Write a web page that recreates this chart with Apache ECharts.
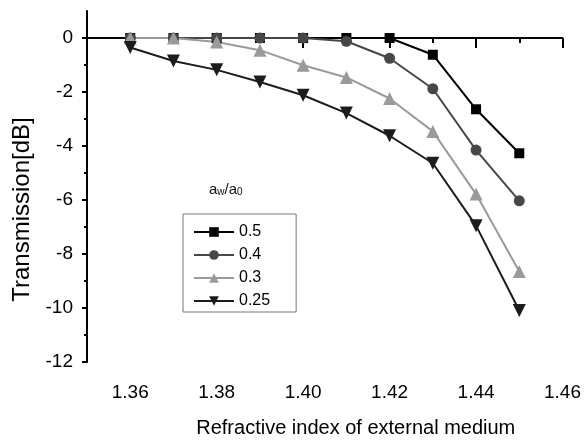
<!DOCTYPE html>
<html>
<head>
<meta charset="utf-8">
<script src="https://cdn.jsdelivr.net/npm/echarts@6/dist/echarts.min.js"></script>
<style>
  html, body { margin: 0; padding: 0; background: #fff; }
  #chart { width: 584px; height: 443px; }
</style>
</head>
<body>
<div id="chart"></div>
<script>
  // refractive index (x) and transmission in dB for each a_w/a_0 ratio
  const xValues = [1.36, 1.37, 1.38, 1.39, 1.40, 1.41, 1.42, 1.43, 1.44, 1.45]
  const ratio05 = [0, 0, 0, 0, 0, 0, 0, -0.62, -2.64, -4.27]
  const ratio04 = [0, 0, 0, 0, 0, -0.12, -0.75, -1.88, -4.15, -6.03]
  const ratio03 = [0, 0, -0.15, -0.45, -1.01, -1.46, -2.24, -3.46, -5.78, -8.65]
  const ratio025 = [-0.35, -0.85, -1.18, -1.63, -2.12, -2.78, -3.62, -4.64, -6.95, -10.09]
  const seriesNames = ['0.5', '0.4', '0.3', '0.25']

  const xMajorTicks = [1.36, 1.38, 1.40, 1.42, 1.44, 1.46]
  const xMinorTicks = [1.37, 1.39, 1.41, 1.43, 1.45]
  const yMajorTicks = [-12, -10, -8, -6, -4, -2, 0]
  const yMinorTicks = [-11, -9, -7, -5, -3, -1]

  const font = 'Liberation Sans, Arial, sans-serif'
  const downTriangle = 'path://M0,0L2,0L1,1.73Z'

  const pairs = ys => xValues.map((x, i) => [x, ys[i]])

  function lineSeries (name, ys, color, symbol, size) {
    return {
      name,
      type: 'line',
      data: pairs(ys),
      symbol,
      symbolSize: size,
      showAllSymbol: true,
      color,
      lineStyle: {color, width: 2},
      itemStyle: {color},
      emphasis: {disabled: true},
      animation: false
    }
  }

  const chart = echarts.init(document.getElementById('chart'))
  const axisLine = {show: true, lineStyle: {color: '#000', width: 2}}

  chart.setOption({
    backgroundColor: '#fff',
    textStyle: {fontFamily: font},
    title: {
      left: 204,
      top: 172,
      text: '{a|a}{s|w}{a|/a}{s|0}',
      textStyle: {
        fontWeight: 'normal',
        rich: {
          a: {fontSize: 15, lineHeight: 20, verticalAlign: 'bottom', color: '#111', fontWeight: 'normal', fontFamily: font},
          s: {fontSize: 10, lineHeight: 6, verticalAlign: 'bottom', color: '#111', fontWeight: 'normal', fontFamily: font}
        }
      }
    },
    legend: {
      orient: 'vertical',
      left: 183,
      top: 214,
      padding: [10, 26, 3, 10],
      itemWidth: 40,
      itemHeight: 12,
      itemGap: 7,
      borderColor: '#777',
      borderWidth: 1,
      textStyle: {fontSize: 16, color: '#000', fontFamily: font},
      data: seriesNames
    },
    grid: {left: 87, right: 21, top: 11, bottom: 80},
    xAxis: [
      {
        type: 'value',
        min: 1.35,
        max: 1.46,
        axisLine,
        axisTick: {show: true, length: 10, lineStyle: {color: '#000', width: 2}, customValues: xMajorTicks},
        axisLabel: {
          customValues: xMajorTicks,
          formatter: v => v.toFixed(2),
          fontSize: 19,
          color: '#000',
          margin: 21
        },
        splitLine: {show: false},
        name: 'Refractive index of external medium',
        nameLocation: 'middle',
        nameGap: 56,
        nameTextStyle: {fontSize: 20, color: '#000', padding: [0, 0, 0, 62]}
      },
      {
        type: 'value',
        min: 1.35,
        max: 1.46,
        position: 'bottom',
        axisLine: {show: false},
        axisTick: {show: true, length: 5, lineStyle: {color: '#000', width: 2}, customValues: xMinorTicks},
        axisLabel: {show: false},
        splitLine: {show: false}
      }
    ],
    yAxis: [
      {
        type: 'value',
        min: -12,
        max: 1,
        axisLine,
        axisTick: {show: true, length: 5, lineStyle: {color: '#000', width: 2}, customValues: yMajorTicks},
        axisLabel: {customValues: yMajorTicks, fontSize: 19, color: '#000', margin: 14},
        splitLine: {show: false},
        name: 'Transmission[dB]',
        nameLocation: 'middle',
        nameGap: 51,
        nameTextStyle: {fontSize: 24, color: '#000', padding: [0, 46, 0, 0]}
      },
      {
        type: 'value',
        min: -12,
        max: 1,
        position: 'left',
        axisLine: {show: false},
        axisTick: {show: true, length: 3, lineStyle: {color: '#000', width: 2}, customValues: yMinorTicks},
        axisLabel: {show: false},
        splitLine: {show: false}
      }
    ],
    series: [
      lineSeries(seriesNames[0], ratio05, '#000000', 'rect', 10),
      lineSeries(seriesNames[1], ratio04, '#474747', 'circle', 11),
      lineSeries(seriesNames[2], ratio03, '#9a9a9a', 'triangle', 13),
      lineSeries(seriesNames[3], ratio025, '#1c1c1c', downTriangle, 13)
    ]
  })
</script>
</body>
</html>
